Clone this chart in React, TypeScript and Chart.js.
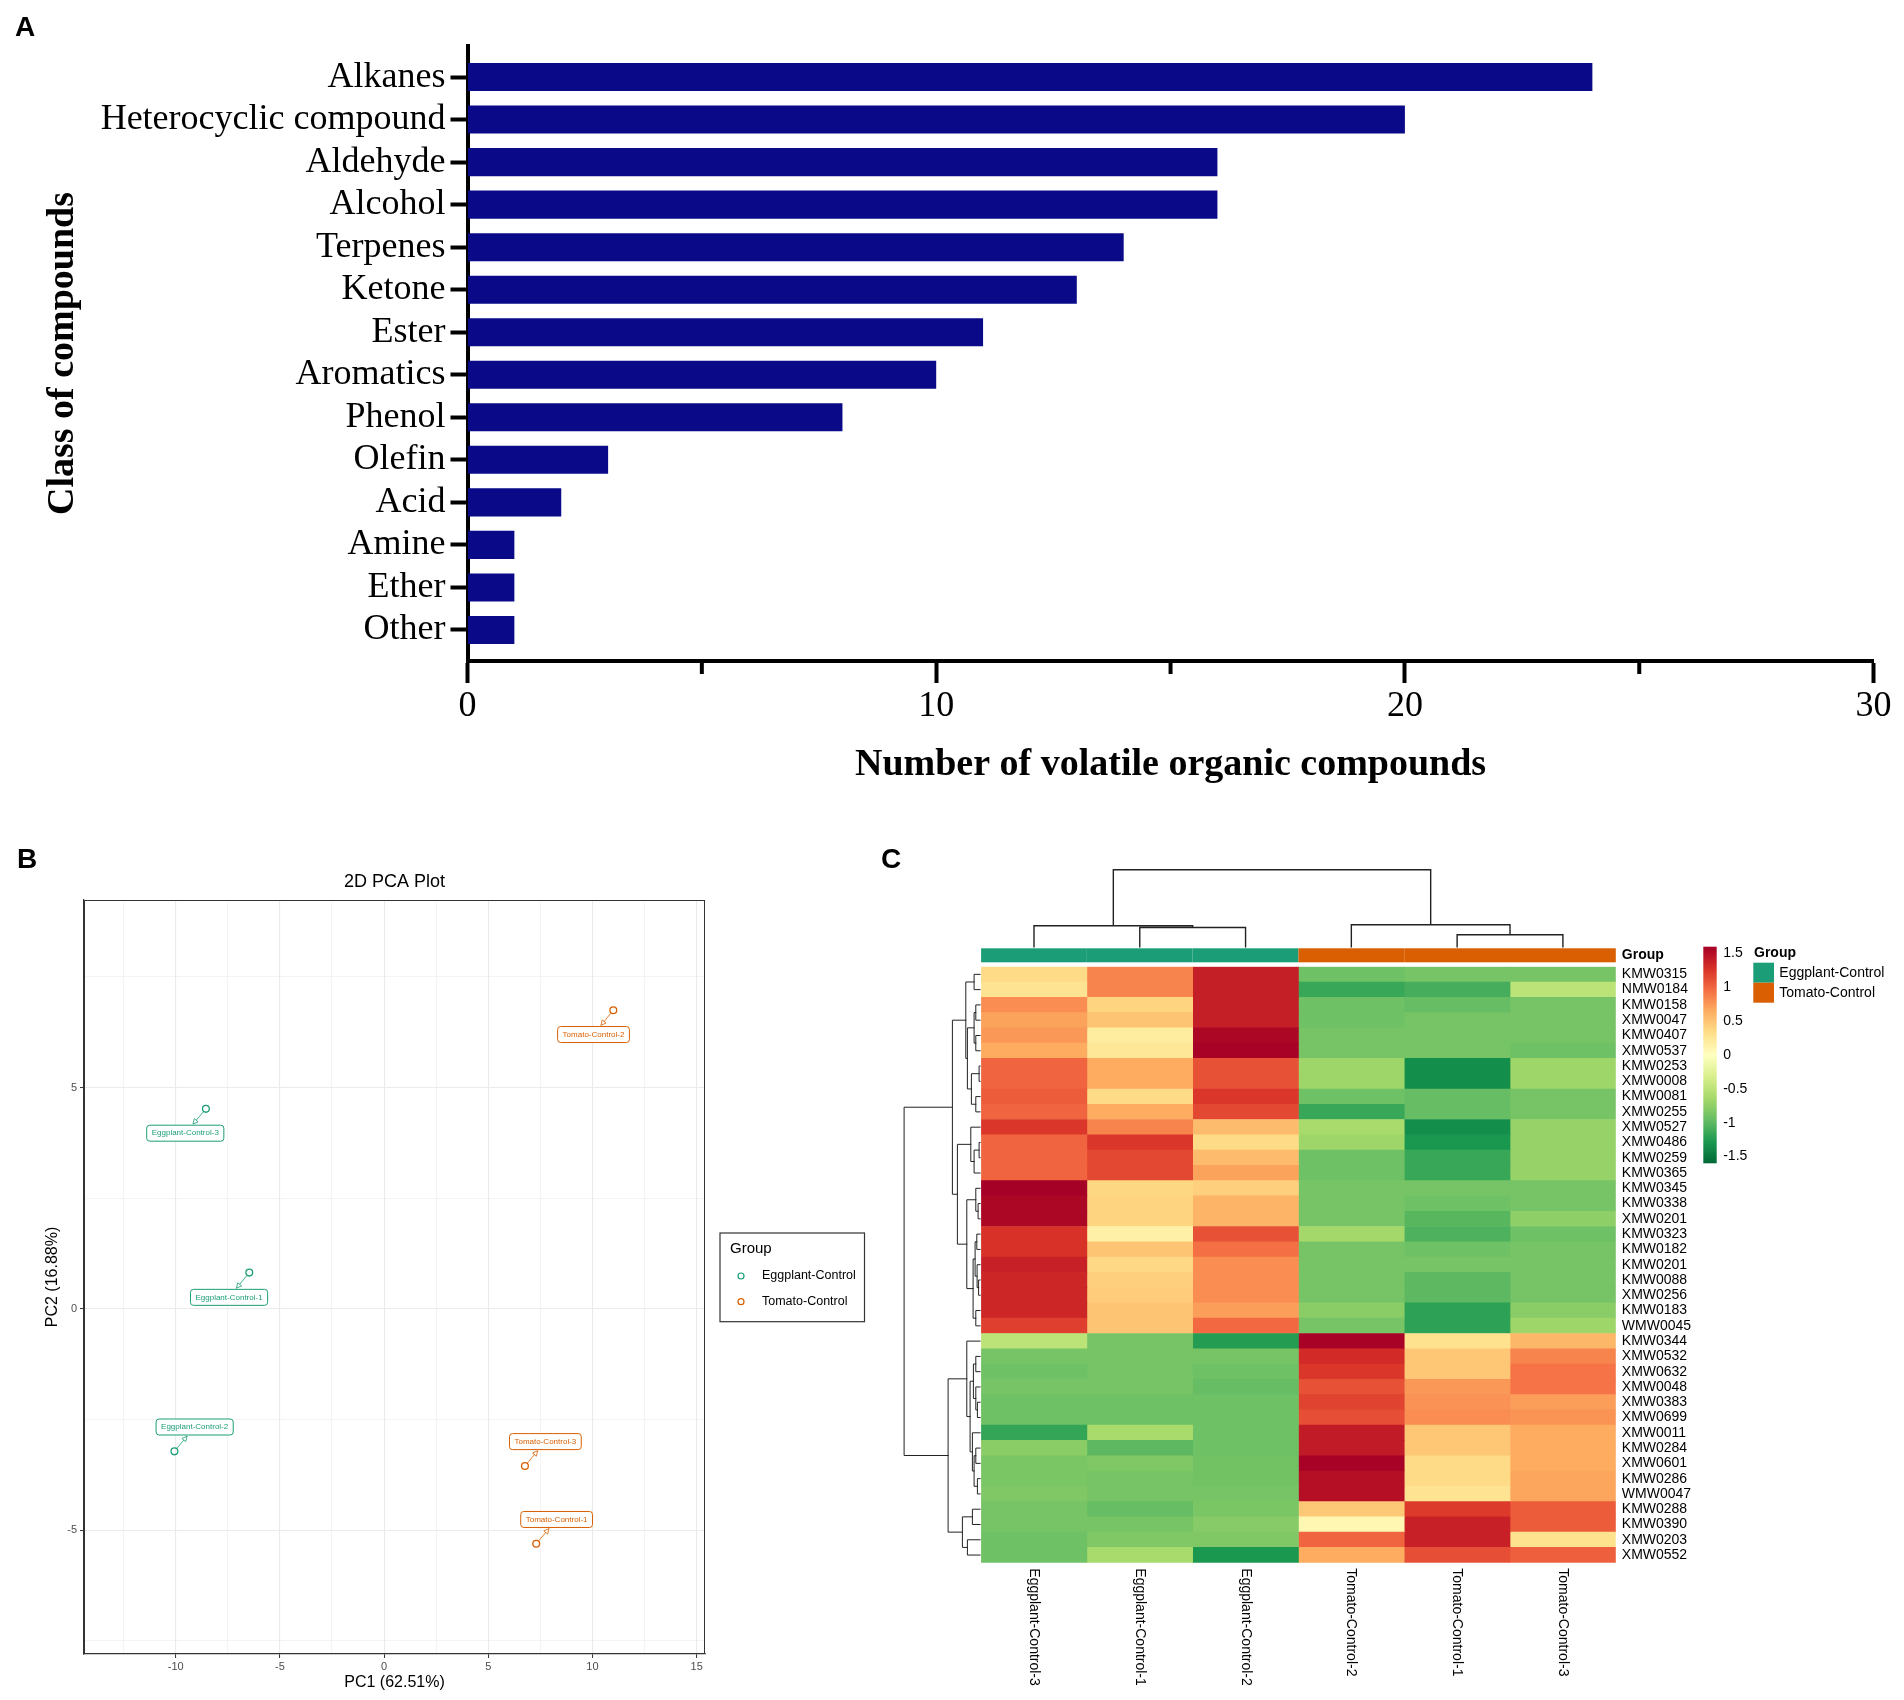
import React, { useEffect, useRef } from 'react';
import { Chart, registerables } from 'chart.js';

Chart.register(...registerables);

const SERIF = '"Liberation Serif", "Times New Roman", serif';
const SANS = '"Liberation Sans", Arial, sans-serif';

// ---------------- Panel A data ----------------
const compoundClasses = [
  'Alkanes', 'Heterocyclic compound', 'Aldehyde', 'Alcohol', 'Terpenes', 'Ketone', 'Ester',
  'Aromatics', 'Phenol', 'Olefin', 'Acid', 'Amine', 'Ether', 'Other',
];
const compoundCounts = [24, 20, 16, 16, 14, 13, 11, 10, 8, 3, 2, 1, 1, 1];
const countMajorTicks = [0, 10, 20, 30];
const countMinorTicks = [5, 15, 25];

// ---------------- Panel B data ----------------
const pcaGroupNames = ['Eggplant-Control', 'Tomato-Control'];
const pcaSamples = [
  'Eggplant-Control-3', 'Eggplant-Control-1', 'Eggplant-Control-2',
  'Tomato-Control-2', 'Tomato-Control-3', 'Tomato-Control-1',
];
const pcaGroups = [
  'Eggplant-Control', 'Eggplant-Control', 'Eggplant-Control',
  'Tomato-Control', 'Tomato-Control', 'Tomato-Control',
];
const pc1 = [-8.55, -6.47, -10.06, 11.0, 6.76, 7.3];
const pc2 = [4.52, 0.82, -3.22, 6.75, -3.55, -5.31];
const labelPc1 = [-9.54, -7.44, -9.09, 10.05, 7.74, 8.28];
const labelPc2 = [3.97, 0.26, -2.67, 6.2, -3.0, -4.76];

const groupColors: Record<string, string> = {
  'Eggplant-Control': '#1b9e77',
  'Tomato-Control': '#d95f02',
};

// ---------------- Panel C data ----------------
const heatColumns = [
  'Eggplant-Control-3', 'Eggplant-Control-1', 'Eggplant-Control-2',
  'Tomato-Control-2', 'Tomato-Control-1', 'Tomato-Control-3',
];
const columnGroups = [
  'Eggplant-Control', 'Eggplant-Control', 'Eggplant-Control',
  'Tomato-Control', 'Tomato-Control', 'Tomato-Control',
];
const metaboliteIds = [
  'KMW0315', 'NMW0184', 'KMW0158', 'XMW0047', 'KMW0407', 'XMW0537', 'KMW0253', 'XMW0008',
  'KMW0081', 'XMW0255', 'XMW0527', 'XMW0486', 'KMW0259', 'KMW0365', 'KMW0345', 'KMW0338',
  'XMW0201', 'KMW0323', 'KMW0182', 'KMW0201', 'KMW0088', 'XMW0256', 'KMW0183', 'WMW0045',
  'KMW0344', 'XMW0532', 'XMW0632', 'XMW0048', 'XMW0383', 'XMW0699', 'XMW0011', 'KMW0284',
  'XMW0601', 'KMW0286', 'WMW0047', 'KMW0288', 'KMW0390', 'XMW0203', 'XMW0552',
];
const eggplantControl3 = [
  0.35, 0.28, 0.8, 0.7, 0.75, 0.65, 1.0, 1.0, 1.05, 1.0, 1.25, 1.0, 1.0, 1.0, 1.6, 1.55, 1.55,
  1.27, 1.27, 1.38, 1.35, 1.35, 1.35, 1.2, -0.5, -0.88, -0.92, -0.88, -0.92, -0.92, -1.17,
  -0.78, -0.86, -0.86, -0.83, -0.88, -0.88, -0.92, -0.92,
];
const eggplantControl1 = [
  0.85, 0.85, 0.4, 0.5, 0.2, 0.25, 0.65, 0.65, 0.35, 0.65, 0.85, 1.25, 1.15, 1.15, 0.38, 0.4,
  0.4, 0.15, 0.5, 0.37, 0.42, 0.45, 0.5, 0.5, -0.88, -0.88, -0.88, -0.88, -0.92, -0.92, -0.62,
  -1.0, -0.83, -0.88, -0.88, -0.96, -0.88, -0.83, -0.62,
];
const eggplantControl2 = [
  1.4, 1.4, 1.4, 1.4, 1.55, 1.58, 1.1, 1.1, 1.25, 1.15, 0.55, 0.35, 0.55, 0.7, 0.42, 0.6, 0.6,
  1.1, 0.95, 0.8, 0.8, 0.8, 0.72, 0.98, -1.24, -0.88, -0.92, -0.96, -0.92, -0.92, -0.92, -0.92,
  -0.9, -0.9, -0.88, -0.86, -0.8, -0.83, -1.28,
];
const tomatoControl2 = [
  -0.92, -1.15, -0.92, -0.92, -0.88, -0.88, -0.68, -0.68, -0.92, -1.15, -0.62, -0.68, -0.92,
  -0.92, -0.88, -0.88, -0.88, -0.65, -0.88, -0.88, -0.88, -0.88, -0.78, -0.88, 1.58, 1.32, 1.25,
  1.1, 1.18, 1.12, 1.42, 1.42, 1.58, 1.5, 1.5, 0.47, 0.08, 1.0, 0.65,
];
const tomatoControl1 = [
  -0.88, -1.1, -0.96, -0.88, -0.88, -0.88, -1.35, -1.35, -0.96, -0.96, -1.35, -1.28, -1.15,
  -1.15, -0.88, -0.92, -1.02, -1.06, -0.92, -0.88, -1.0, -1.0, -1.2, -1.2, 0.3, 0.48, 0.48, 0.75,
  0.78, 0.8, 0.48, 0.48, 0.35, 0.35, 0.28, 1.22, 1.38, 1.38, 1.12,
];
const tomatoControl3 = [
  -0.88, -0.5, -0.88, -0.88, -0.88, -0.92, -0.68, -0.68, -0.88, -0.88, -0.72, -0.72, -0.72,
  -0.72, -0.88, -0.88, -0.76, -0.92, -0.88, -0.88, -0.88, -0.88, -0.78, -0.68, 0.58, 0.85, 0.93,
  0.93, 0.72, 0.77, 0.65, 0.65, 0.65, 0.68, 0.68, 1.05, 1.05, 0.3, 1.03,
];
const heatColumnValues = [
  eggplantControl3, eggplantControl1, eggplantControl2,
  tomatoControl2, tomatoControl1, tomatoControl3,
];
// hierarchical clustering (hclust style: negative = leaf, positive = earlier merge)
const colMerges = [[-2, -3], [-1, 1], [-5, -6], [-4, 3], [2, 4]];
const colMergeHeights = [2.5, 2.73, 1.56, 2.86, 10];
const rowMerges = [
  [-1, -2], [-3, -4], [-5, -6], [2, 3], [-7, -8], [-9, -10], [5, 6], [4, 7], [1, 8],
  [-12, -13], [10, -14], [-11, 11], [-16, -17], [-15, 13], [-18, -19], [-21, -22], [-20, 16],
  [15, 17], [-23, -24], [18, 19], [14, 20], [12, 21], [9, 22],
  [-26, -27], [-29, -30], [-28, 25], [24, 26], [-32, -33], [-34, -35], [28, 29], [-31, 30],
  [27, 31], [-25, 32], [-36, -37], [-38, -39], [34, 35], [33, 36], [23, 37],
];
const rowMergeHeights = [
  6, 4.3, 4.3, 6, 1, 4.3, 8.7, 12.7, 14.3,
  1, 6, 9.3, 2, 4.3, 3.3, 1.5, 3,
  5, 4.3, 7, 13.3, 22.7, 27.7,
  4.3, 2.7, 4.3, 6.7, 4.3, 2.7, 6, 7.7,
  10, 13.3, 7.7, 12.7, 17.7, 32, 76,
];
const colorbarTicks = [1.5, 1, 0.5, 0, -0.5, -1, -1.5];
const colorDomain = [-1.6, 1.6];
const rdYlGn = [
  '#006837', '#1a9850', '#66bd63', '#a6d96a', '#d9ef8b', '#ffffbf',
  '#fee08b', '#fdae61', '#f46d43', '#d73027', '#a50026',
];

function hexToRgb(h: string) {
  const n = parseInt(h.slice(1), 16);
  return [(n >> 16) & 255, (n >> 8) & 255, n & 255];
}
function heatColor(v: number) {
  const t = Math.min(1, Math.max(0, (v - colorDomain[0]) / (colorDomain[1] - colorDomain[0])));
  const f = t * (rdYlGn.length - 1);
  const i = Math.min(rdYlGn.length - 2, Math.floor(f));
  const r = f - i;
  const a = hexToRgb(rdYlGn[i]);
  const b = hexToRgb(rdYlGn[i + 1]);
  const c = a.map((x, k) => Math.round(x + (b[k] - x) * r));
  return `rgb(${c[0]},${c[1]},${c[2]})`;
}

function drawDendro(
  ctx: CanvasRenderingContext2D,
  merges: number[][],
  heights: number[],
  leafPos: (i: number) => number,
  toXY: (p: number, h: number) => [number, number],
  lw: number,
) {
  const pos: number[] = [];
  const node = (ref: number): [number, number] =>
    ref < 0 ? [leafPos(-ref - 1), 0] : [pos[ref - 1], heights[ref - 1]];
  ctx.beginPath();
  merges.forEach(([a, b], k) => {
    const [pa, ha] = node(a);
    const [pb, hb] = node(b);
    const h = heights[k];
    pos[k] = (pa + pb) / 2;
    let p = toXY(pa, ha);
    ctx.moveTo(p[0], p[1]);
    p = toXY(pa, h);
    ctx.lineTo(p[0], p[1]);
    p = toXY(pb, h);
    ctx.lineTo(p[0], p[1]);
    p = toXY(pb, hb);
    ctx.lineTo(p[0], p[1]);
  });
  ctx.lineWidth = lw;
  ctx.strokeStyle = '#222';
  ctx.lineCap = 'square';
  ctx.stroke();
}

// ---------------- Panel A ----------------
function makeBarChart(canvas: HTMLCanvasElement) {
  const minorTickPlugin = {
    id: 'minorTicks',
    afterDraw(chart: any) {
      const { ctx, chartArea, scales } = chart;
      ctx.save();
      ctx.strokeStyle = '#000';
      ctx.lineWidth = 4;
      countMinorTicks.forEach((v) => {
        const px = scales.x.getPixelForValue(v);
        ctx.beginPath();
        ctx.moveTo(px, chartArea.bottom);
        ctx.lineTo(px, chartArea.bottom + 13);
        ctx.stroke();
      });
      ctx.restore();
    },
  };
  return new Chart(canvas, {
    type: 'bar',
    data: {
      datasets: [
        {
          data: compoundCounts.map((v, i) => ({ x: v, y: i })),
          backgroundColor: '#0a0a88',
          borderWidth: 0,
          barPercentage: 0.66,
          categoryPercentage: 1,
        },
      ],
    },
    options: {
      responsive: false,
      animation: false,
      indexAxis: 'y',
      layout: { padding: { left: 0, right: 30.4, top: 46, bottom: 0 } },
      plugins: { legend: { display: false }, tooltip: { enabled: false } },
      scales: {
        x: {
          type: 'linear',
          min: 0,
          max: 30,
          offset: false,
          afterBuildTicks: (s: any) => {
            s.ticks = countMajorTicks.map((v) => ({ value: v }));
          },
          ticks: {
            color: '#000',
            font: { family: SERIF, size: 36 },
            padding: 2,
            maxRotation: 0,
            autoSkip: false,
          },
          grid: { offset: false, drawOnChartArea: false, drawTicks: true, tickLength: 22, tickWidth: 4, tickColor: '#000' },
          border: { display: true, color: '#000', width: 4 },
          title: {
            display: true,
            text: 'Number of volatile organic compounds',
            color: '#000',
            font: { family: SERIF, size: 38, weight: 'bold' },
            padding: { top: 0, bottom: 12.2 },
          },
          afterFit: (s: any) => {
            s.height = 139;
          },
        },
        y: {
          type: 'linear',
          min: -0.73,
          max: 13.73,
          reverse: true,
          offset: false,
          afterBuildTicks: (s: any) => {
            s.ticks = compoundClasses.map((_, i) => ({ value: i }));
          },
          ticks: {
            callback: (_v: any, i: number) => compoundClasses[i],
            color: '#000',
            font: { family: SERIF, size: 36 },
            padding: 5,
            autoSkip: false,
          },
          grid: { offset: false, drawOnChartArea: false, drawTicks: true, tickLength: 17, tickWidth: 4, tickColor: '#000' },
          border: { display: true, color: '#000', width: 4 },
          title: {
            display: true,
            text: 'Class of compounds',
            color: '#000',
            font: { family: SERIF, size: 38, weight: 'bold' },
            padding: { top: 40.2, bottom: 0 },
          },
          afterFit: (s: any) => {
            s.width = 467.5;
          },
        },
      },
    } as any,
    plugins: [minorTickPlugin],
  });
}

// ---------------- Panel B ----------------
function makePcaChart(canvas: HTMLCanvasElement) {
  const isMajor = (v: number) => Math.abs(v % 5) < 1e-9;
  const pcaPlugin = {
    id: 'pcaExtras',
    afterDatasetsDraw(chart: any) {
      const { ctx, chartArea: ca, scales } = chart;
      const xs = scales.x;
      const ys = scales.y;
      ctx.save();
      ctx.font = `8px ${SANS}`;
      pcaSamples.forEach((name, i) => {
        const col = groupColors[pcaGroups[i]];
        const cx = xs.getPixelForValue(labelPc1[i]);
        const cy = ys.getPixelForValue(labelPc2[i]);
        const tw = ctx.measureText(name).width;
        const w = tw + 10;
        const h = 16;
        const px = xs.getPixelForValue(pc1[i]);
        const py = ys.getPixelForValue(pc2[i]);
        const dx = px - cx;
        const dy = py - cy;
        const s = Math.min(w / 2 / Math.max(Math.abs(dx), 1e-6), h / 2 / Math.max(Math.abs(dy), 1e-6));
        const ex = cx + dx * s;
        const ey = cy + dy * s;
        const len = Math.hypot(px - ex, py - ey) || 1;
        const ux = (px - ex) / len;
        const uy = (py - ey) / len;
        ctx.strokeStyle = col;
        ctx.lineWidth = 0.8;
        ctx.beginPath();
        ctx.moveTo(px - ux * 4, py - uy * 4);
        ctx.lineTo(ex + ux * 1.5, ey + uy * 1.5);
        ctx.stroke();
        // open arrow head pointing toward the label
        const tx = ex + ux * 1.5;
        const ty = ey + uy * 1.5;
        const bx = tx + ux * 5;
        const by = ty + uy * 5;
        ctx.beginPath();
        ctx.moveTo(tx, ty);
        ctx.lineTo(bx - uy * 2.5, by + ux * 2.5);
        ctx.lineTo(bx + uy * 2.5, by - ux * 2.5);
        ctx.closePath();
        ctx.fillStyle = '#fff';
        ctx.fill();
        ctx.stroke();
        // label box
        ctx.beginPath();
        ctx.roundRect(cx - w / 2, cy - h / 2, w, h, 3);
        ctx.fillStyle = '#fff';
        ctx.fill();
        ctx.lineWidth = 1;
        ctx.stroke();
        ctx.fillStyle = col;
        ctx.textAlign = 'center';
        ctx.textBaseline = 'middle';
        ctx.fillText(name, cx, cy);
      });
      // panel border
      ctx.strokeStyle = '#333';
      ctx.lineWidth = 1;
      ctx.strokeRect(ca.left + 0.5, ca.top + 0.5, ca.right - ca.left - 1, ca.bottom - ca.top - 1);
      // legend
      ctx.lineWidth = 1.2;
      ctx.strokeRect(720, 395, 144.5, 88.7);
      ctx.fillStyle = '#000';
      ctx.textAlign = 'left';
      ctx.textBaseline = 'middle';
      ctx.font = `15px ${SANS}`;
      ctx.fillText('Group', 730, 411);
      ctx.font = `12.5px ${SANS}`;
      pcaGroupNames.forEach((g, k) => {
        const yy = 438 + k * 25.7;
        ctx.beginPath();
        ctx.arc(741, yy, 3, 0, Math.PI * 2);
        ctx.strokeStyle = groupColors[g];
        ctx.lineWidth = 1.2;
        ctx.stroke();
        ctx.fillStyle = '#000';
        ctx.fillText(g, 762, yy);
      });
      ctx.restore();
    },
  };
  const axisCommon = (title: string, extra: any) => ({
    type: 'linear',
    ticks: {
      stepSize: 2.5,
      includeBounds: false,
      autoSkip: false,
      maxRotation: 0,
      color: '#4d4d4d',
      font: { family: SANS, size: 11 },
      callback: (v: number) => (isMajor(v) ? String(v) : ''),
      ...extra.ticks,
    },
    grid: {
      color: '#ebebeb',
      lineWidth: (c: any) => (c.tick && isMajor(c.tick.value) ? 1.1 : 0.55),
      tickColor: (c: any) => (c.tick && isMajor(c.tick.value) ? '#333' : 'rgba(0,0,0,0)'),
      tickLength: 4,
      tickWidth: 1,
    },
    border: { display: true, color: '#333', width: 1.2 },
    title: {
      display: true,
      text: title,
      color: '#000',
      font: { family: SANS, size: 16 },
      padding: extra.titlePadding,
    },
    min: extra.min,
    max: extra.max,
    afterFit: extra.afterFit,
  });
  return new Chart(canvas, {
    type: 'scatter',
    data: {
      datasets: pcaGroupNames.map((g) => ({
        label: g,
        data: pc1.map((v, i) => ({ x: v, y: pc2[i] })).filter((_, i) => pcaGroups[i] === g),
        borderColor: groupColors[g],
        backgroundColor: 'rgba(255,255,255,0)',
        pointRadius: 3.4,
        pointBorderWidth: 1.3,
        pointStyle: 'circle',
      })),
    },
    options: {
      responsive: false,
      animation: false,
      layout: { padding: { left: 35, right: 175, top: 20, bottom: 0 } },
      plugins: {
        legend: { display: false },
        tooltip: { enabled: false },
        title: {
          display: true,
          text: '2D PCA Plot',
          fullSize: false,
          color: '#000',
          font: { family: SANS, size: 18, weight: 'normal' },
          padding: { top: 12.9, bottom: 7.5 },
        },
      },
      scales: {
        x: axisCommon('PC1 (62.51%)', {
          min: -14.4,
          max: 15.4,
          ticks: { padding: 2 },
          titlePadding: { top: 0, bottom: 7.4 },
          afterFit: (s: any) => {
            s.height = 46;
          },
        }),
        y: axisCommon('PC2 (16.88%)', {
          min: -7.8,
          max: 9.24,
          ticks: { padding: 3 },
          titlePadding: { top: 8.4, bottom: 0 },
          afterFit: (s: any) => {
            s.width = 49;
          },
        }),
      },
    } as any,
    plugins: [pcaPlugin],
  });
}

// ---------------- Panel C ----------------
function makeHeatmap(canvas: HTMLCanvasElement) {
  const heatPlugin = {
    id: 'heatExtras',
    afterDraw(chart: any) {
      const { ctx, chartArea: ca, scales } = chart;
      const xs = scales.x;
      const ys = scales.y;
      ctx.save();
      // group annotation bar
      const barTop = ca.top - 18.4;
      const barBottom = ca.top - 4.4;
      heatColumns.forEach((_, c) => {
        const x0 = xs.getPixelForValue(c);
        const x1 = xs.getPixelForValue(c + 1);
        ctx.fillStyle = groupColors[columnGroups[c]];
        ctx.fillRect(x0, barTop, x1 - x0, barBottom - barTop);
      });
      ctx.fillStyle = '#000';
      ctx.textAlign = 'left';
      ctx.textBaseline = 'middle';
      ctx.font = `bold 14px ${SANS}`;
      ctx.fillText('Group', ca.right + 6, (barTop + barBottom) / 2);
      // column dendrogram
      const colBase = barTop - 1.6;
      const colScale = 77 / Math.max(...colMergeHeights);
      drawDendro(
        ctx, colMerges, colMergeHeights,
        (c) => xs.getPixelForValue(c + 0.5),
        (p, h) => [p, colBase - h * colScale],
        1.4,
      );
      // row dendrogram
      const rowBase = ca.left - 1;
      const rowScale = 76 / Math.max(...rowMergeHeights);
      drawDendro(
        ctx, rowMerges, rowMergeHeights,
        (i) => ys.getPixelForValue(i),
        (p, h) => [rowBase - h * rowScale, p],
        1,
      );
      // column labels (rotated)
      ctx.fillStyle = '#000';
      ctx.font = `14px ${SANS}`;
      heatColumns.forEach((name, c) => {
        ctx.save();
        ctx.translate(xs.getPixelForValue(c + 0.5), ca.bottom + 5.6);
        ctx.rotate(Math.PI / 2);
        ctx.textAlign = 'left';
        ctx.textBaseline = 'middle';
        ctx.fillText(name, 0, 0);
        ctx.restore();
      });
      // colour bar
      const cbX = 823.3;
      const cbW = 13.4;
      const cbTop = 108.7;
      const cbBottom = 325.3;
      const grad = ctx.createLinearGradient(0, cbBottom, 0, cbTop);
      rdYlGn.forEach((col, k) => grad.addColorStop(k / (rdYlGn.length - 1), col));
      ctx.fillStyle = grad;
      ctx.fillRect(cbX, cbTop, cbW, cbBottom - cbTop);
      ctx.fillStyle = '#000';
      ctx.font = `14px ${SANS}`;
      ctx.textAlign = 'left';
      ctx.textBaseline = 'middle';
      colorbarTicks.forEach((v) => {
        const yy = cbTop + ((colorDomain[1] - v) / (colorDomain[1] - colorDomain[0])) * (cbBottom - cbTop);
        ctx.fillText(String(v), cbX + cbW + 6.5, yy);
      });
      // group legend
      ctx.font = `bold 14px ${SANS}`;
      ctx.fillText('Group', 874, 114.7);
      ctx.font = `14px ${SANS}`;
      pcaGroupNames.forEach((g, k) => {
        const top = 124.7 + k * 20;
        ctx.fillStyle = groupColors[g];
        ctx.fillRect(873.3, top, 20.7, 20);
        ctx.fillStyle = '#000';
        ctx.fillText(g, 899.3, top + 10.5);
      });
      ctx.restore();
    },
  };
  return new Chart(canvas, {
    type: 'bar',
    data: {
      labels: metaboliteIds,
      datasets: heatColumnValues.map((vals, c) => ({
        label: heatColumns[c],
        data: vals.map(() => [c, c + 1]),
        backgroundColor: vals.map(heatColor),
        borderWidth: 0,
        barPercentage: 1,
        categoryPercentage: 1,
        grouped: false,
      })),
    },
    options: {
      responsive: false,
      animation: false,
      indexAxis: 'y',
      layout: { padding: { left: 101.1, right: 188.2, top: 128.7, bottom: 0 } },
      plugins: { legend: { display: false }, tooltip: { enabled: false } },
      scales: {
        x: {
          type: 'linear',
          min: 0,
          max: heatColumns.length,
          ticks: { display: false },
          grid: { display: false, drawTicks: false },
          border: { display: false },
          afterFit: (s: any) => {
            s.height = 137.3;
          },
        },
        y: {
          type: 'category',
          position: 'right',
          offset: true,
          ticks: { color: '#000', font: { family: SANS, size: 14 }, padding: 6, autoSkip: false },
          grid: { display: false, drawTicks: false },
          border: { display: false },
          afterFit: (s: any) => {
            s.width = 100;
          },
        },
      },
    } as any,
    plugins: [heatPlugin],
  });
}

const panelLabel: React.CSSProperties = {
  position: 'absolute',
  fontFamily: SANS,
  fontWeight: 'bold',
  fontSize: 28,
  lineHeight: '28px',
  color: '#000',
};

export default function App() {
  const aRef = useRef<HTMLCanvasElement>(null);
  const bRef = useRef<HTMLCanvasElement>(null);
  const cRef = useRef<HTMLCanvasElement>(null);

  useEffect(() => {
    const charts = [
      makeBarChart(aRef.current!),
      makePcaChart(bRef.current!),
      makeHeatmap(cRef.current!),
    ];
    return () => charts.forEach((c) => c.destroy());
  }, []);

  return (
    <div
      style={{
        position: 'absolute',
        left: 0,
        top: 0,
        width: 1904,
        height: 1700,
        background: '#fff',
        overflow: 'hidden',
      }}
    >
      <canvas
        ref={aRef}
        width={1904}
        height={800}
        style={{ position: 'absolute', left: 0, top: 0, width: 1904, height: 800 }}
      />
      <canvas
        ref={bRef}
        width={880}
        height={862}
        style={{ position: 'absolute', left: 0, top: 838, width: 880, height: 862 }}
      />
      <canvas
        ref={cRef}
        width={1024}
        height={862}
        style={{ position: 'absolute', left: 880, top: 838, width: 1024, height: 862 }}
      />
      <div style={{ ...panelLabel, left: 15, top: 13 }}>A</div>
      <div style={{ ...panelLabel, left: 17, top: 845 }}>B</div>
      <div style={{ ...panelLabel, left: 881, top: 845 }}>C</div>
    </div>
  );
}
